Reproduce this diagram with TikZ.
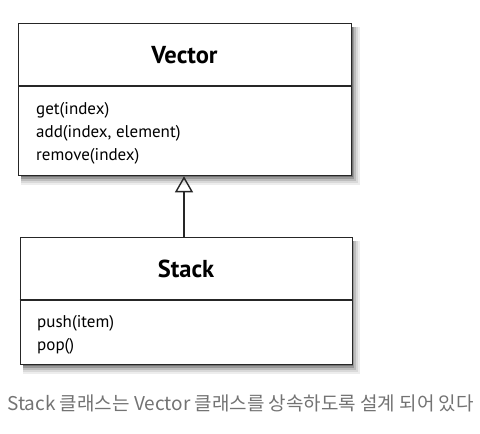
\documentclass[tikz,border=0pt]{standalone}
\usepackage{fontspec}
\setmainfont{PT Sans}
\newfontfamily\cjk{Noto Sans CJK KR}
\usetikzlibrary{arrows.meta}
\begin{document}
\begin{tikzpicture}[x=1pt,y=-1pt,
  classbox/.style={draw=black!85, line width=1.3pt, fill=white, inner sep=0pt},
  divider/.style={draw=black!85, line width=1.1pt},
  classtitle/.style={font=\fontsize{24.5}{28}\selectfont\bfseries, anchor=base, inner sep=0pt},
  meth/.style={font=\fontsize{17}{20}\selectfont, anchor=base west, inner sep=0pt},
  inherit/.style={draw=black!85, line width=1.4pt, -{Triangle[open, width=18pt, length=16pt, line width=1.4pt]}}]
\useasboundingbox (0,0) rectangle (480,434);
% shadows (nested grey layers, outermost lightest)
\fill[black!7] (21,27) rectangle (360,185);
\fill[black!15] (21,27) rectangle (358,183);
\fill[black!26] (21,27) rectangle (356,181);
\fill[black!40] (21,27) rectangle (354,179);
\fill[black!55] (21,27) rectangle (352.5,177);
\fill[black!7] (22.5,241) rectangle (360,374);
\fill[black!15] (22.5,241) rectangle (358,372);
\fill[black!26] (22.5,241) rectangle (356,370);
\fill[black!40] (22.5,241) rectangle (354,368);
\fill[black!55] (22.5,241) rectangle (352.5,366);
% Vector class
\node[classbox, minimum width=333pt, minimum height=152pt, anchor=north west] (vec) at (18,23) {};
\draw[divider] (18,86) coordinate (vd1) -- (351,86) coordinate (vd2);
\node[classtitle] (vectitle) at (184.5,63) {Vector};
\node[meth] (vm1) at (36,114) {get(index)};
\node[meth] (vm2) at (36,137) {add(index, element)};
\node[meth] (vm3) at (36,160) {remove(index)};
% Stack class
\node[classbox, minimum width=332pt, minimum height=127pt, anchor=north west] (stk) at (19.5,237) {};
\draw[divider] (19.5,300) coordinate (sd1) -- (351.5,300) coordinate (sd2);
\node[classtitle] (stktitle) at (186,277) {Stack};
\node[meth] (sm1) at (37,327) {push(item)};
\node[meth] (sm2) at (37,350) {pop()};
% inheritance
\draw[inherit] (stk.north -| 184,0) coordinate (ia) -- (vec.south -| 184,0);
% caption
\node[font=\cjk\fontsize{19}{22}\selectfont, text=black!55, anchor=base west, inner sep=0pt] (cap) at (7,410) {Stack 클래스는 Vector 클래스를 상속하도록 설계 되어 있다};
\end{tikzpicture}
\end{document}
